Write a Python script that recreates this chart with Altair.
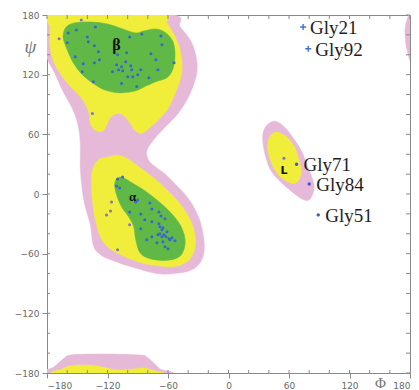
import altair as alt
import pandas as pd

# ---------------- contour regions (phi, psi vertices) ----------------
pink_main_phi = [-180, -60, -48, -38, -33, -31, -33, -40, -50, -63, -73, -80, -81, -77, -64, -54, -41, -31, -26, -24, -28, -38, -54, -71, -94, -117, -127, -134, -137, -142, -145, -147, -147, -149, -154, -164, -172, -181]
pink_main_psi = [181, 181, 168, 155, 142, 128, 115, 97, 81, 67, 56, 46, 39, 31, 21, 11, -3, -20, -36, -55, -69, -77, -80, -80, -74, -66, -61, -52, -31, -13, 4, 27, 51, 68, 84, 103, 121, 142]

pink_bottom_phi = [-181, -173, -164, -157, -137, -117, -87, -81, -73, -68, -62]
pink_bottom_psi = [-181, -174, -166, -162, -161, -161, -162, -164, -171, -176, -181]

pink_edge_phi = [181, 177, 175, 175.5, 177, 181]
pink_edge_psi = [181, 175, 165, 155, 145, 135]

pink_l_phi = [40, 47, 55, 63, 72, 78, 83, 85, 81, 75, 67, 55, 43, 37, 34, 35]
pink_l_psi = [71, 73, 68, 58, 44, 29, 16, 6, -5, -6, -1, 9, 22, 37, 53, 64]

yellow_beta_phi = [-177, -69, -61, -53, -48, -46, -48, -53, -60, -70, -76, -81, -87, -93, -98, -104, -110, -117, -121, -125, -132, -137, -139, -147, -161, -172, -177, -177]
yellow_beta_psi = [181, 181, 172, 158, 145, 128, 115, 101, 86, 74, 69, 64, 61, 64, 72, 79, 81, 77, 69, 63, 64, 71, 84, 98, 113, 130, 148, 168]

yellow_alpha_phi = [-120, -111, -101, -87, -74, -61, -48, -38, -33, -34, -41, -54, -71, -87, -107, -120, -127, -132, -135, -136, -134, -128]
yellow_alpha_psi = [37, 39, 36, 26, 16, 4, -10, -26, -43, -57, -68, -73, -72, -69, -61, -53, -43, -26, -6, 14, 27, 35]

yellow_bottom_phi = [-170, -165, -157, -144, -130, -117, -107, -94, -84, -76, -71]
yellow_bottom_psi = [-181, -176, -173, -172, -173, -176, -177, -176, -175, -177, -181]

yellow_l_phi = [42, 48, 57, 65, 70, 72, 68, 62, 53, 45, 40, 39]
yellow_l_psi = [59, 62, 58, 48, 34, 21, 12, 11, 16, 26, 39, 51]

green_beta_phi = [-161, -153, -137, -120, -105, -92, -84, -72, -62, -55, -53, -55, -61, -72, -81, -91, -102, -112, -124, -134, -145, -154, -160, -163, -164]
green_beta_psi = [168, 172, 173, 171, 166, 162, 164, 166, 162, 153, 140, 126, 117, 113, 109, 104, 102, 102, 105, 111, 120, 132, 145, 153, 160]

green_alpha_phi = [-111, -106, -97, -84, -71, -58, -48, -43, -46, -56, -74, -87, -92, -94, -99, -106, -111, -113]
green_alpha_psi = [15, 17, 12, 4, -6, -18, -31, -46, -60, -66, -66, -60, -46, -33, -23, -13, -1, 9]

# ---------------- residues ----------------
core_phi = [-159, -151, -132, -140, -139, -160, -133, -129, -152, -128, -144, -133, -145, -134,
            -98, -86, -67, -66, -110, -101, -77, -72, -102, -54, -111, -106, -97, -115, -109,
            -105, -96, -87, -70, -100, -95, -90, -79, -106, -91,
            -110, -105, -111, -108, -98, -92, -90, -78, -76, -87, -69, -67, -63, -83, -76,
            -69, -68, -65, -87, -81, -76, -70, -68, -66, -64, -62, -59, -56, -53, -71, -65,
            -63, -60, -58, -66, -61]
core_psi = [162, 165, 168, 158, 153, 152, 149, 143, 138, 135, 131, 132, 123, 113,
            158, 161, 159, 150, 140, 142, 141, 135, 133, 132, 130, 128, 129, 123, 125,
            124, 125, 125, 125, 118, 118, 120, 117, 111, 108,
            15, 17, 8, 6, -18, -8, -6, -9, -15, -20, -18, -22, -25, -26, -28,
            -30, -33, -34, -35, -46, -43, -41, -40, -43, -41, -43, -45, -44, -47, -49, -48,
            -53, -55, -46, -36, -38]

outer_phi = [-146, -168, -135, -116, -117, -121, -98, -110, 55]
outer_psi = [175, 156, 81, -8, -17, -21, -31, -56, 36]

gly_names = ["Gly21", "Gly92", "Gly71", "Gly84", "Gly51"]
gly_phi = [74, 79, 67.5, 80, 89]
gly_psi = [168, 146, 30, 10, -21]
gly_mark = ["cross", "cross", "dot", "dot", "dot"]

region_labels = ["\u03b2", "\u03b1"]
region_label_phi = [-111, -95]
region_label_psi = [150, -3]
region_label_size = [16, 13]

tick_all = list(range(-180, 181, 20))
tick_inner = list(range(-160, 161, 20))
major_ticks = [-180, -120, -60, 0, 60, 120, 180]

PINK, YELLOW, GREEN = "#e7b9d9", "#f1ee3b", "#60b947"

regions = [
    ("pink_main", "pink", pink_main_phi, pink_main_psi),
    ("pink_bottom", "pink", pink_bottom_phi, pink_bottom_psi),
    ("pink_edge", "pink", pink_edge_phi, pink_edge_psi),
    ("pink_l", "pink", pink_l_phi, pink_l_psi),
    ("yellow_beta", "yellow", yellow_beta_phi, yellow_beta_psi),
    ("yellow_alpha", "yellow", yellow_alpha_phi, yellow_alpha_psi),
    ("yellow_bottom", "yellow", yellow_bottom_phi, yellow_bottom_psi),
    ("yellow_l", "yellow", yellow_l_phi, yellow_l_psi),
    ("green_beta", "green", green_beta_phi, green_beta_psi),
    ("green_alpha", "green", green_alpha_phi, green_alpha_psi),
]
rows = []
for name, level, ph, ps in regions:
    for i, (a, b) in enumerate(zip(ph, ps)):
        rows.append({"region": name, "level": level, "order": i, "phi": a, "psi": b})
poly = pd.DataFrame(rows)

xs = alt.Scale(domain=[-180, 180], nice=False, zero=False)
ys = alt.Scale(domain=[-180, 180], nice=False, zero=False)

AX = dict(domainColor="#8a8a8a", tickColor="#8a8a8a", labelColor="#6a6a6a",
          labelFont="DejaVu Sans", labelFontSize=9, grid=False, tickSize=5,
          values=major_ticks)

x_axis = alt.Axis(title="\u03a6", titleX=333, titleY=9, titleFont="Liberation Serif",
                  titleFontSize=15, titleFontWeight="normal", titleColor="#777777",
                  titleBaseline="middle", titleAlign="center", labelPadding=3, **AX)
y_axis = alt.Axis(title="\u03c8", titleX=-17, titleY=31, titleAngle=0,
                  titleFont="Liberation Serif", titleFontStyle="italic", titleFontSize=19,
                  titleFontWeight="normal", titleColor="#777777", titleBaseline="middle",
                  titleAlign="center", labelPadding=3, **AX)

X = alt.X("phi:Q", scale=xs, axis=x_axis)
Y = alt.Y("psi:Q", scale=ys, axis=y_axis)


def region_layer(level, color):
    return (alt.Chart(poly).transform_filter(alt.datum.level == level)
            .mark_line(filled=True, fill=color, stroke=color, strokeWidth=0.5,
                       interpolate="cardinal-closed", clip=True)
            .encode(x=X, y=Y, detail="region:N", order="order:Q"))


pink = region_layer("pink", PINK)
yellow = region_layer("yellow", YELLOW)
green = region_layer("green", GREEN)

core_df = pd.DataFrame({"phi": core_phi, "psi": core_psi})
outer_df = pd.DataFrame({"phi": outer_phi, "psi": outer_psi})
core = alt.Chart(core_df).mark_circle(size=9, color="#3a5fd6", opacity=0.95).encode(x=X, y=Y)
outer = alt.Chart(outer_df).mark_circle(size=9, color="#7d6ac8", opacity=0.95).encode(x=X, y=Y)

gly_df = pd.DataFrame({"name": gly_names, "phi": gly_phi, "psi": gly_psi, "mark": gly_mark})
gly_cross = (alt.Chart(gly_df).transform_filter(alt.datum.mark == "cross")
             .mark_point(shape="M-1,0H1M0,-1V1", filled=False, size=36, strokeWidth=1.4,
                         color="#3a78d4", opacity=1)
             .encode(x=X, y=Y))
gly_dot = (alt.Chart(gly_df).transform_filter(alt.datum.mark == "dot")
           .mark_circle(size=12, color="#4a55c4", opacity=1)
           .encode(x=X, y=Y))
gly_text = (alt.Chart(gly_df)
            .mark_text(align="left", baseline="alphabetic", dx=7, dy=7,
                       font="Liberation Serif", fontSize=19, color="#1e1e1e")
            .encode(x=X, y=Y, text="name:N"))

rl_df = pd.DataFrame({"label": region_labels, "phi": region_label_phi,
                      "psi": region_label_psi, "size": region_label_size})
rl_text = (alt.Chart(rl_df)
           .mark_text(font="Liberation Serif", fontWeight="bold", color="#111111",
                      baseline="middle", align="center")
           .encode(x=X, y=Y, text="label:N",
                   size=alt.Size("size:Q", scale=None, legend=None)))
l_df = pd.DataFrame({"label": ["L"], "phi": [55], "psi": [23]})
l_text = (alt.Chart(l_df)
          .mark_text(font="DejaVu Sans", fontWeight="bold", fontSize=11, color="#111111",
                     baseline="middle", align="center")
          .encode(x=X, y=Y, text="label:N"))

W, H = 363, 358
TC = "#8a8a8a"
ta_df = pd.DataFrame({"phi": tick_all})
ti_df = pd.DataFrame({"phi": tick_inner})
top_ticks = alt.Chart(ta_df).mark_rule(color=TC, strokeWidth=1).encode(
    x=X, y=alt.value(0), y2=alt.value(4))
bottom_ticks = alt.Chart(ti_df).mark_rule(color=TC, strokeWidth=1).encode(
    x=X, y=alt.value(H), y2=alt.value(H - 3))
ra_df = pd.DataFrame({"psi": tick_all})
ri_df = pd.DataFrame({"psi": tick_inner})
right_ticks = alt.Chart(ra_df).mark_rule(color=TC, strokeWidth=1).encode(
    y=Y, x=alt.value(W), x2=alt.value(W - 4))
left_ticks = alt.Chart(ri_df).mark_rule(color=TC, strokeWidth=1).encode(
    y=Y, x=alt.value(0), x2=alt.value(3))

chart = (alt.layer(pink, yellow, green, core, outer, gly_cross, gly_dot, gly_text,
                   rl_text, l_text, top_ticks, bottom_ticks, right_ticks, left_ticks)
         .properties(width=W, height=H,
                     autosize=alt.AutoSizeParams(type="none"),
                     padding={"left": 39, "top": 7, "right": 1, "bottom": 17},
                     background="white")
         .configure_view(stroke="#8a8a8a", strokeWidth=1))

chart.save("out.html", embed_options={"renderer": "svg", "actions": False})
